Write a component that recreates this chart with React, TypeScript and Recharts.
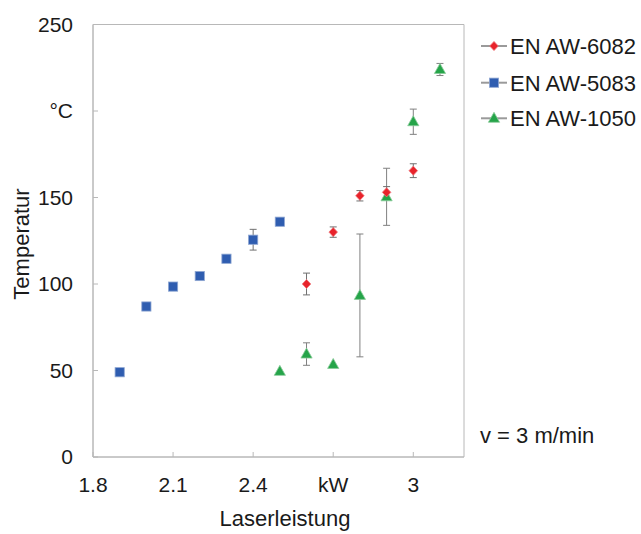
import React from 'react';
import { ScatterChart, Scatter, XAxis, YAxis, ErrorBar, ReferenceArea } from 'recharts';

// ---- data ----
const power6082 = [2.6, 2.7, 2.8, 2.9, 3.0];
const temp6082 = [100, 130, 151, 153, 165.5];
const err6082 = [6.3, 3, 3, 3.3, 4];

const power5083 = [1.9, 2.0, 2.1, 2.2, 2.3, 2.4, 2.5];
const temp5083 = [49, 87, 98.5, 104.6, 114.6, 125.6, 136];
const err5083 = [0, 0, 2, 0, 0, 6, 0];

const power1050 = [2.5, 2.6, 2.7, 2.8, 2.9, 3.0, 3.1];
const temp1050 = [49.5, 59.5, 53.5, 93.4, 150.4, 193.8, 224];
const err1050 = [0, 6.5, 0, 35.5, 16.5, 7.3, 3.5];

const xTicks = [1.8, 2.1, 2.4, 2.7, 3.0];
const yTicks = [0, 50, 100, 150, 200, 250];
const xUnitTick = 2.7;
const yUnitTick = 200;
const xUnit = 'kW';
const yUnit = '°C';
const seriesNames = ['EN AW-6082', 'EN AW-5083', 'EN AW-1050'];
const xTitle = 'Laserleistung';
const yTitle = 'Temperatur';
const note = 'v = 3 m/min';

const build = (xs: number[], ys: number[], es: number[]) =>
  xs.map((x, i) => ({ x, y: ys[i], err: es[i] }));

const d6082 = build(power6082, temp6082, err6082);
const d5083 = build(power5083, temp5083, err5083);
const d1050 = build(power1050, temp1050, err1050);

const RED = '#e8232b';
const BLUE = '#2f5db0';
const GREEN = '#25a449';
const FONT = '"Liberation Sans", Arial, sans-serif';

const Diamond = ({ cx, cy }: any) => (
  <path d={`M${cx},${cy - 4.6} L${cx + 4.3},${cy} L${cx},${cy + 4.6} L${cx - 4.3},${cy} Z`} fill={RED} stroke="#f07a7d" strokeWidth={0.8} />
);
const Square = ({ cx, cy }: any) => (
  <rect x={cx - 4.6} y={cy - 4.6} width={9.2} height={9.2} fill={BLUE} stroke="#8ea6d2" strokeWidth={0.8} />
);
const Triangle = ({ cx, cy }: any) => (
  <path d={`M${cx},${cy - 6} L${cx + 5.6},${cy + 4} L${cx - 5.6},${cy + 4} Z`} fill={GREEN} stroke="#8acb9a" strokeWidth={0.8} />
);

const shapes = [Diamond, Square, Triangle];
const legendY = [46, 82.7, 118.3];

export default function App() {
  return (
    <div style={{ position: 'absolute', left: 0, top: 0, width: 641, height: 534, background: '#fff', fontFamily: FONT }}>
      <ScatterChart width={641} height={534} margin={{ top: 24.5, right: 177, bottom: 37, left: 0 }}>
        <ReferenceArea x1={1.8} x2={3.19} y1={0} y2={250} fill="none" stroke="#b8b8b8" strokeWidth={1} ifOverflow="visible" />
        <XAxis
          type="number"
          dataKey="x"
          domain={[1.8, 3.19]}
          ticks={xTicks}
          allowDataOverflow
          height={40}
          tickSize={-5}
          tickMargin={25}
          axisLine={{ stroke: '#b8b8b8' }}
          tickLine={{ stroke: '#b8b8b8' }}
          tick={{ fill: '#1a1a1a', fontSize: 21, fontFamily: FONT }}
          tickFormatter={(v: number) => (Math.abs(v - xUnitTick) < 1e-9 ? xUnit : String(+v.toFixed(1)))}
        />
        <YAxis
          type="number"
          dataKey="y"
          domain={[0, 250]}
          ticks={yTicks}
          width={93}
          tickSize={-5}
          tickMargin={25}
          axisLine={{ stroke: '#b8b8b8' }}
          tickLine={{ stroke: '#b8b8b8' }}
          tick={{ fill: '#1a1a1a', fontSize: 21, fontFamily: FONT }}
          tickFormatter={(v: number) => (v === yUnitTick ? yUnit : String(v))}
        />
        <Scatter name={seriesNames[1]} data={d5083} shape={Square} isAnimationActive={false}>
          <ErrorBar dataKey="err" direction="y" width={3.5} stroke="#707070" strokeWidth={1} />
        </Scatter>
        <Scatter name={seriesNames[2]} data={d1050} shape={Triangle} isAnimationActive={false}>
          <ErrorBar dataKey="err" direction="y" width={3.5} stroke="#808080" strokeWidth={1} />
        </Scatter>
        <Scatter name={seriesNames[0]} data={d6082} shape={Diamond} isAnimationActive={false}>
          <ErrorBar dataKey="err" direction="y" width={3.5} stroke="#707070" strokeWidth={1} />
        </Scatter>
      </ScatterChart>
      <svg width={641} height={534} style={{ position: 'absolute', left: 0, top: 0, pointerEvents: 'none' }}>
        <text x={285} y={526} textAnchor="middle" fontSize={22} fill="#1a1a1a" fontFamily={FONT}>{xTitle}</text>
        <text transform="translate(28.5,244) rotate(-90)" textAnchor="middle" fontSize={22} fill="#1a1a1a" fontFamily={FONT}>{yTitle}</text>
        <text x={480} y={443} fontSize={22} fill="#1a1a1a" fontFamily={FONT}>{note}</text>
        {seriesNames.map((name, i) => {
          const Shape = shapes[i];
          const y = legendY[i];
          return (
            <g key={name}>
              <line x1={481} x2={507} y1={y} y2={y} stroke="#9a9a9a" strokeWidth={2} />
              <Shape cx={494} cy={y} />
              <text x={510} y={y} dy="0.36em" fontSize={22} fill="#1a1a1a" fontFamily={FONT}>{name}</text>
            </g>
          );
        })}
      </svg>
    </div>
  );
}
